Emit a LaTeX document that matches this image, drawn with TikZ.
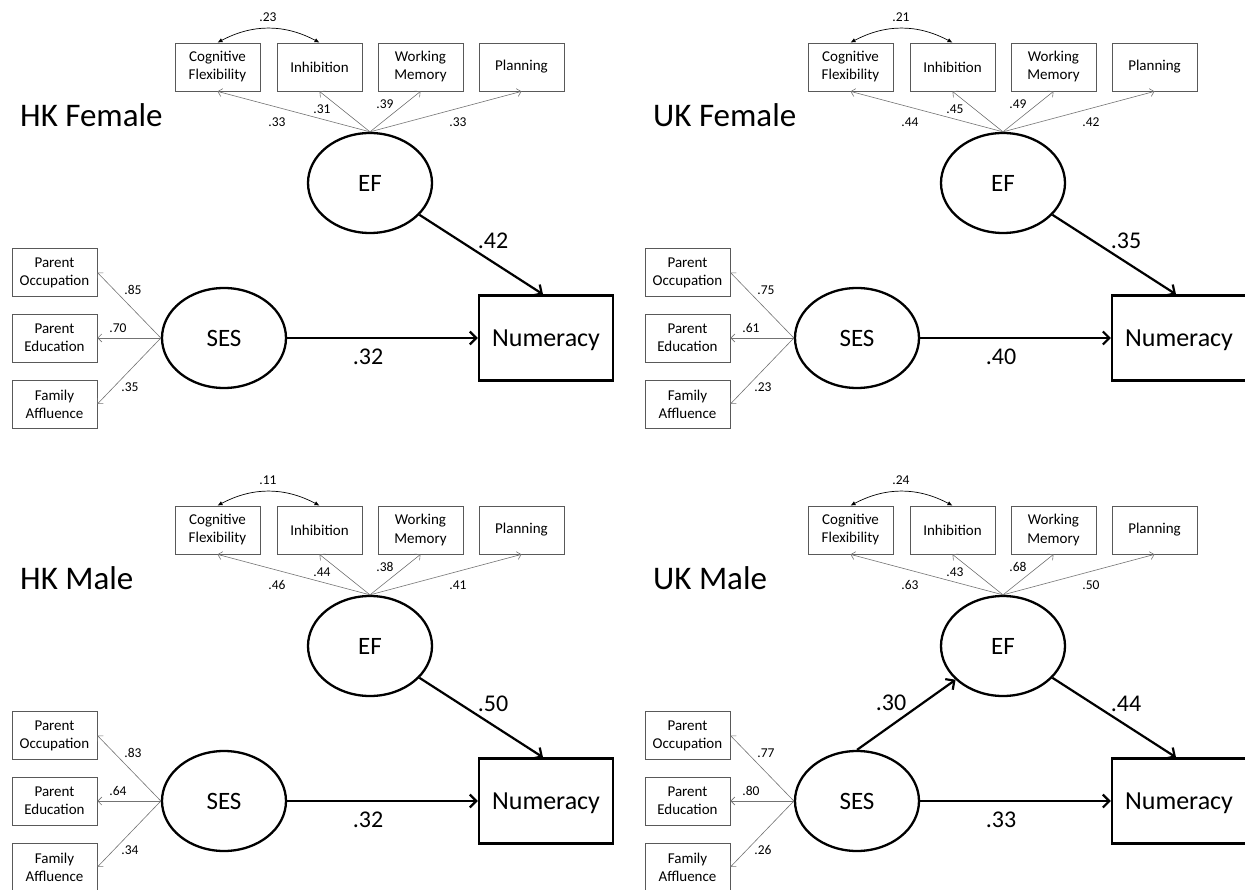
\documentclass[tikz,border=0pt]{standalone}
\usepackage{fontspec}
\setmainfont{Carlito}
\usetikzlibrary{arrows.meta,shapes.geometric}
\begin{document}
\begin{tikzpicture}[x=1pt,y=-1pt,
  indbox/.style={draw=black!65,line width=0.8pt,minimum width=85pt,minimum height=48pt,inner sep=0pt,align=center,font=\fontsize{15}{18}\selectfont},
  latent/.style={draw,ellipse,line width=2.3pt,minimum width=124pt,minimum height=100pt,inner sep=0pt,font=\fontsize{25}{30}\selectfont},
  outbox/.style={draw,line width=2.3pt,minimum width=134pt,minimum height=85pt,inner sep=0pt,text depth=0pt,font=\fontsize{26}{31}\selectfont},
  titletext/.style={anchor=west,inner sep=0pt,font=\fontsize{33}{39}\selectfont},
  smalllab/.style={inner sep=0pt,font=\fontsize{13.5}{16}\selectfont},
  biglab/.style={inner sep=0pt,font=\fontsize{24}{29}\selectfont},
  loading/.style={draw=black!55,line width=0.6pt,-{Straight Barb[length=4pt,width=8pt]}},
  mainarrow/.style={line width=2.2pt,-{Straight Barb[length=6.5pt,width=13pt]}},
  corrarrow/.style={line width=0.7pt,{Latex[length=5pt,width=4.5pt]}-{Latex[length=5pt,width=4.5pt]}}
]
\clip (0,0) rectangle (1245,890);
\foreach \p/\dx/\dy/\ttl/\vc/\va/\vb/\vd/\ve/\vp/\vq/\vr/\vs/\vt in {
  hf/0/0/HK Female/.23/.33/.31/.39/.33/.42/.32/.85/.70/.35,
  uf/633/0/UK Female/.21/.44/.45/.49/.42/.35/.40/.75/.61/.23,
  hm/0/463/HK Male/.11/.46/.44/.38/.41/.50/.32/.83/.64/.34,
  um/633/463/UK Male/.24/.63/.43/.68/.50/.44/.33/.77/.80/.26}{
  \begin{scope}[shift={(\dx,\dy)}]
    \node[titletext] (\p-title) at (20,115) {\ttl};
    \node[indbox] (\p-cf) at (217.5,67) {Cognitive\\Flexibility};
    \node[indbox] (\p-inh) at (319.5,67) {Inhibition};
    \node[indbox] (\p-wm) at (420.5,67) {Working\\Memory};
    \node[indbox] (\p-pl) at (521.5,67) {Planning};
    \node[latent] (\p-ef) at (370,183) {EF};
    \node[latent] (\p-ses) at (224,338) {SES};
    \node[outbox] (\p-num) at (546,338) {Numeracy};
    \node[indbox] (\p-po) at (54.5,272.5) {Parent\\Occupation};
    \node[indbox] (\p-pe) at (54.5,338) {Parent\\Education};
    \node[indbox] (\p-fa) at (54.5,404) {Family\\Affluence};
    \coordinate (\p-numin) at ([xshift=-3pt]\p-num.north);
    \draw[loading] (\p-ef.north) -- (\p-cf.south);
    \draw[loading] (\p-ef.north) -- (\p-inh.south);
    \draw[loading] (\p-ef.north) -- (\p-wm.south);
    \draw[loading] (\p-ef.north) -- (\p-pl.south);
    \draw[loading] (\p-ses.west) -- (\p-po.east);
    \draw[loading] (\p-ses.west) -- (\p-pe.east);
    \draw[loading] (\p-ses.west) -- (\p-fa.east);
    \draw[mainarrow] (\p-ef) -- (\p-numin);
    \draw[mainarrow] (\p-ses.east) -- (\p-num.west);
    \draw[corrarrow] (\p-cf.north) to[bend left=28] (\p-inh.north);
    \node[smalllab] (\p-lc) at (268,17) {\vc};
    \node[smalllab] (\p-la) at (277,122) {\va};
    \node[smalllab] (\p-lb) at (322,109) {\vb};
    \node[smalllab] (\p-ld) at (385,104) {\vd};
    \node[smalllab] (\p-le) at (458,122) {\ve};
    \node[biglab] (\p-lp) at (493,241) {\vp};
    \node[biglab] (\p-lq) at (368,357) {\vq};
    \node[smalllab] (\p-lr) at (133,290) {\vr};
    \node[smalllab] (\p-ls) at (118,328) {\vs};
    \node[smalllab] (\p-lt) at (130,387) {\vt};
  \end{scope}
}
\draw[mainarrow] (um-ses.north) -- (um-ef);
\node[biglab] (um-lse) at (891,703) {.30};
\end{tikzpicture}
\end{document}
